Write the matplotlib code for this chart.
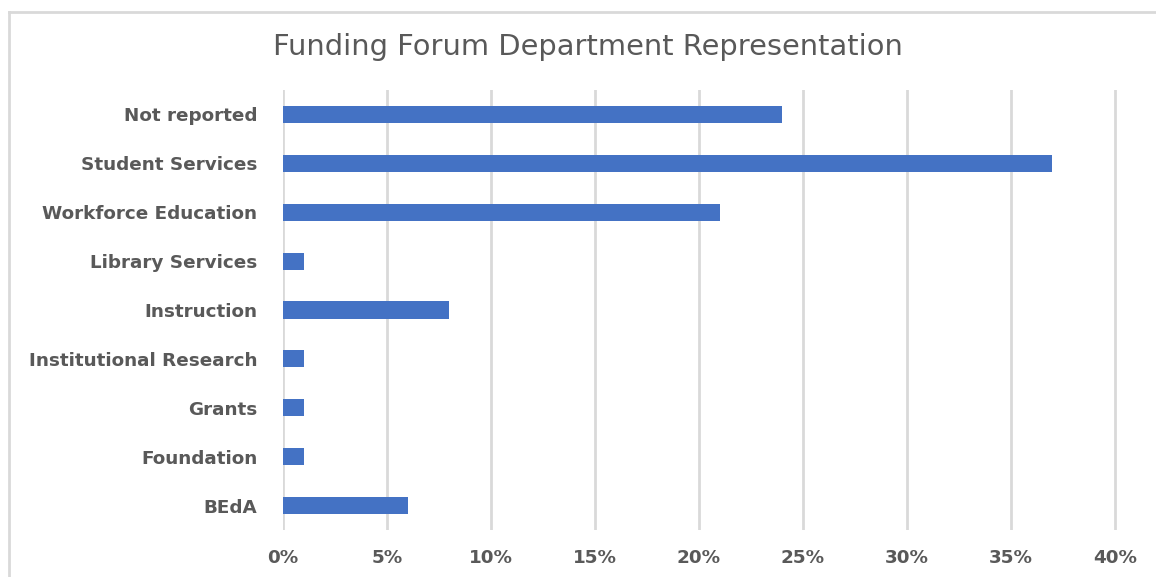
import numpy as np
import matplotlib
matplotlib.use('Agg')
from matplotlib import pyplot as plt
from matplotlib import ticker as mticker
from matplotlib import lines as mlines

# Chart data (percent of attendees)
categories = ['Not reported', 'Student Services', 'Workforce Education',
              'Library Services', 'Instruction', 'Institutional Research',
              'Grants', 'Foundation', 'BEdA']
shares = [24, 37, 21, 1, 8, 1, 1, 1, 6]
xticks = [0, 5, 10, 15, 20, 25, 30, 35, 40]

def main():

    fig = plt.figure(figsize=(11.56, 5.77), dpi=100)
    ax = fig.add_axes([0.2448, 0.0815, 0.7232, 0.7625])

    # Outer chart border (only top and left visible in the reference)
    bx, by = 8.5 / 1156, 1 - 11.5 / 577
    fig.add_artist(mlines.Line2D([bx, 1.0], [by, by], transform=fig.transFigure,
                                 color='#D9D9D9', linewidth=2))
    fig.add_artist(mlines.Line2D([bx, bx], [0.0, by], transform=fig.transFigure,
                                 color='#D9D9D9', linewidth=2))

    y = np.arange(len(categories))
    ax.barh(y, shares, height=0.35, color='#4472C4', zorder=3)

    ax.set_xlim(0, 40.2)
    ax.set_ylim(len(categories) - 0.5, -0.5)
    ax.set_xticks(xticks)
    ax.xaxis.set_major_formatter(mticker.FuncFormatter(lambda v, p: '%d%%' % v))
    ax.set_yticks(y)
    ax.set_yticklabels(categories)

    ax.grid(axis='x', color='#D9D9D9', linewidth=2, zorder=0)
    for s in ax.spines.values():
        s.set_visible(False)
    ax.tick_params(axis='both', length=0, colors='#595959')
    ax.tick_params(axis='y', pad=18.5)
    ax.tick_params(axis='x', pad=14)
    for lbl in ax.get_yticklabels() + ax.get_xticklabels():
        lbl.set_fontfamily('DejaVu Sans')
        lbl.set_fontweight('bold')
        lbl.set_fontsize(13.2)
        lbl.set_color('#595959')

    fig.text(588 / 1156, 1 - 47 / 577, 'Funding Forum Department Representation',
             ha='center', va='center', fontsize=20.8, color='#595959',
             fontfamily='DejaVu Sans')

    fig.savefig('out.png', dpi=100, facecolor='white')
    plt.close(fig)

if __name__ == '__main__': main()
